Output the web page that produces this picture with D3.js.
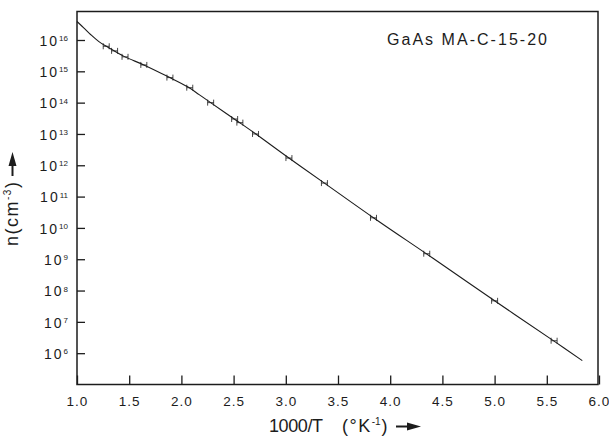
<!DOCTYPE html>
<html>
<head>
<meta charset="utf-8">
<script src="https://cdn.jsdelivr.net/npm/d3@7"></script>
<style>
  html, body { margin: 0; padding: 0; background: #fff; }
  svg { display: block; font-family: "Liberation Sans", Arial, Helvetica, sans-serif; }
</style>
</head>
<body>
<svg id="chart" width="609" height="442"></svg>
<script>
// ---- data ----
const curveX = [1.0, 1.067, 1.13, 1.21, 1.30, 1.45, 1.64, 1.87, 2.06, 2.17, 2.28, 2.52, 2.70, 3.03, 3.37, 3.85, 4.41, 5.0, 5.58, 5.84];
const curveN = [3.9e16, 2.4e16, 1.5e16, 8.9e15, 5.8e15, 3.0e15, 1.6e15, 6.8e14, 3.2e14, 1.8e14, 1.0e14, 2.8e13, 1.07e13, 1.7e12, 2.7e11, 2.0e10, 1.07e9, 4.7e7, 2.3e6, 5.8e5];
const pointX = [1.28, 1.36, 1.46, 1.64, 1.89, 2.08, 2.28, 2.51, 2.56, 2.71, 3.03, 3.37, 3.84, 4.35, 5.0, 5.57];
const pointN = [6.3e15, 4.5e15, 2.9e15, 1.6e15, 6.3e14, 3.0e14, 1.0e14, 3.0e13, 2.3e13, 1.0e13, 1.7e12, 2.7e11, 2.1e10, 1.5e9, 4.7e7, 2.5e6];
const xTicks = [1.0, 1.5, 2.0, 2.5, 3.0, 3.5, 4.0, 4.5, 5.0, 5.5, 6.0];
const yTickExp = [6, 7, 8, 9, 10, 11, 12, 13, 14, 15, 16];
const annotation = "GaAs MA-C-15-20";

// ---- layout ----
const ink = "#1c1c1c";
const svg = d3.select("#chart");
const mLeft = 77, mRight = 599, mTop = 11.5, mBottom = 384.5;

const x = d3.scaleLinear().domain([1.0, 6.0]).range([mLeft, mRight]);
const y = d3.scaleLog().domain([1e5, Math.pow(10, 16.91)]).range([mBottom, mTop]);

// frame
svg.append("rect")
  .attr("x", mLeft).attr("y", mTop)
  .attr("width", mRight - 1 - mLeft).attr("height", mBottom - mTop)
  .attr("fill", "none").attr("stroke", ink).attr("stroke-width", 1.5);

// x axis
const gx = svg.append("g")
  .attr("transform", `translate(0,${mBottom})`)
  .call(d3.axisBottom(x).tickValues(xTicks).tickFormat(d3.format(".1f"))
    .tickSize(-9).tickSizeOuter(0).tickPadding(12));
gx.select(".domain").remove();
gx.selectAll(".tick line").attr("stroke", ink).attr("stroke-width", 1.3);
gx.selectAll(".tick text")
  .attr("fill", ink).attr("font-size", 13.5).attr("letter-spacing", 1)
  .attr("font-family", "Liberation Sans, Arial, sans-serif");

// y axis
const gy = svg.append("g")
  .attr("transform", `translate(${mLeft},0)`)
  .call(d3.axisLeft(y).tickValues(yTickExp.map(e => Math.pow(10, e)))
    .tickFormat(() => "").tickSize(-8).tickSizeOuter(0).tickPadding(9));
gy.select(".domain").remove();
gy.selectAll(".tick line").attr("stroke", ink).attr("stroke-width", 1.3);
gy.selectAll(".tick text").each(function(d) {
  const t = d3.select(this)
    .attr("fill", ink).attr("font-size", 14)
    .attr("font-family", "Liberation Sans, Arial, sans-serif")
    .attr("dy", "0.38em");
  t.text(null);
  t.append("tspan").attr("letter-spacing", 2).text("10");
  t.append("tspan").attr("font-size", 8).attr("dy", "-0.6em")
    .text(String(Math.round(Math.log10(d))));
});

// curve
const line = d3.line()
  .x((d, i) => x(curveX[i]))
  .y((d, i) => y(curveN[i]))
  .curve(d3.curveCatmullRom.alpha(0.5));
svg.append("path")
  .datum(curveX)
  .attr("d", line)
  .attr("fill", "none").attr("stroke", ink).attr("stroke-width", 1.1);

// data markers (small bracketed error-bar marks)
const pts = svg.append("g").attr("stroke", ink).attr("stroke-width", 0.8).attr("fill", "none");
pointX.forEach((px, i) => {
  const cx = x(px), cy = y(pointN[i]);
  pts.append("path")
    .attr("d", `M${cx - 3},${cy - 3}V${cy + 3}M${cx + 3},${cy - 3}V${cy + 3}M${cx - 3},${cy}H${cx + 3}`);
});

// annotation
svg.append("text")
  .attr("x", 387).attr("y", 45)
  .attr("font-size", 16).attr("fill", ink)
  .attr("textLength", 160).attr("lengthAdjust", "spacing")
  .text(annotation);

// x axis title
const xt = svg.append("text")
  .attr("x", 269).attr("y", 432)
  .attr("font-size", 18).attr("fill", ink);
xt.append("tspan").attr("textLength", 54).attr("lengthAdjust", "spacing").text("1000/T");
xt.append("tspan").attr("x", 342).attr("letter-spacing", 1.5).text("(°K");
xt.append("tspan").attr("font-size", 10).attr("dy", -7).text("-1");
xt.append("tspan").attr("dy", 7).attr("dx", 1).text(")");
// arrow after x title
svg.append("path")
  .attr("d", "M396,426.5H410")
  .attr("stroke", ink).attr("stroke-width", 2);
svg.append("path")
  .attr("d", "M407,422.5L421,426.5L407,430.5Z")
  .attr("fill", ink);

// y axis title (rotated)
const yt = svg.append("text")
  .attr("transform", "translate(18,246) rotate(-90)")
  .attr("font-size", 18).attr("letter-spacing", 1.5).attr("fill", ink);
yt.append("tspan").text("n(cm");
yt.append("tspan").attr("font-size", 10).attr("dy", -7).text("-3");
yt.append("tspan").attr("dy", 7).text(")");
// arrow after y title
svg.append("path")
  .attr("d", "M12.5,176V163")
  .attr("stroke", ink).attr("stroke-width", 2);
svg.append("path")
  .attr("d", "M8.5,166L12.5,152L16.5,166Z")
  .attr("fill", ink);
</script>
</body>
</html>
